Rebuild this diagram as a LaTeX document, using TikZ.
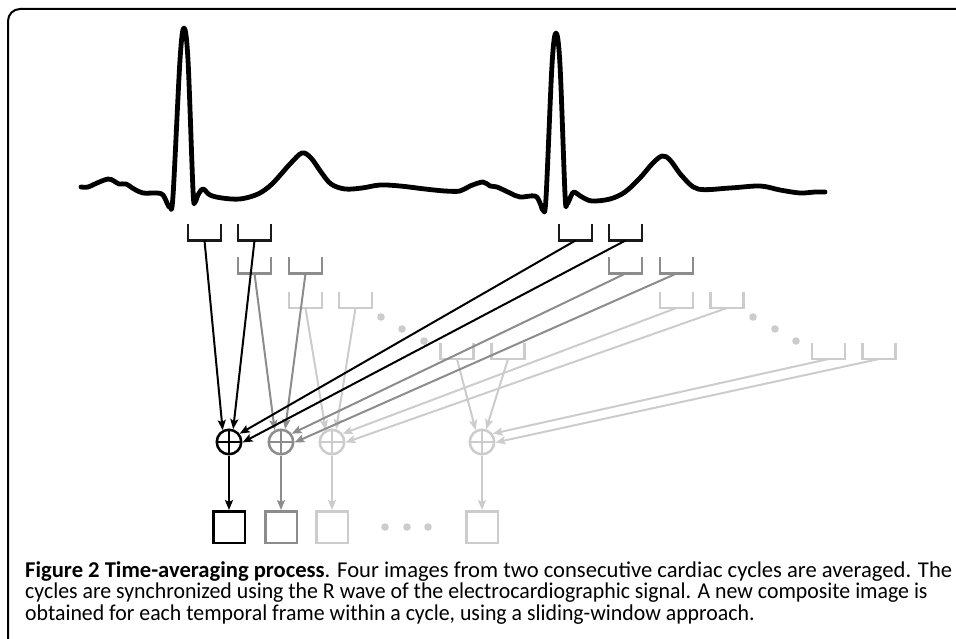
\documentclass[tikz,border=0pt]{standalone}
\usepackage{fontspec}
\newfontfamily\capfont{Carlito}
\usetikzlibrary{arrows.meta}
\definecolor{cK}{HTML}{1A1A1A}
\definecolor{cA}{HTML}{000000}
\definecolor{cG}{HTML}{8C8C8C}
\definecolor{cL}{HTML}{CCCCCC}
\tikzset{
  brk/.style={minimum width=33pt,minimum height=16pt,inner sep=0pt,outer sep=0pt,
    append after command={\pgfextra{\draw[line width=2.5pt,#1,line join=miter]
      (\tikzlastnode.north west) -- (\tikzlastnode.south west) -- (\tikzlastnode.south east) -- (\tikzlastnode.north east);}}},
  sumnode/.style={circle,draw=#1,line width=2.5pt,minimum size=24.5pt,inner sep=0pt,
    path picture={\draw[#1,line width=2pt] (path picture bounding box.north) -- (path picture bounding box.south)
      (path picture bounding box.west) -- (path picture bounding box.east);}},
  outbox/.style={rectangle,draw=#1,line width=2.5pt,minimum size=31.5pt,inner sep=0pt},
  arr/.style={draw=#1,line width=2pt,-{Stealth[length=10pt,width=8pt,inset=2pt]}},
  dotc/.style={fill=cL},
  ecg/.style={line width=4.8pt,line cap=round,line join=round},
  frame/.style={line width=2pt,rounded corners=12pt},
  captext/.style={anchor=base west,inner sep=0pt,font=\capfont\fontsize{22.6}{24}\selectfont},
}
\begin{document}
\begin{tikzpicture}[x=1pt,y=-1pt]
\useasboundingbox (0,0) rectangle (956,639);
% frame
\draw[frame] (8,645) -- (8,9) -- (962,9);
% ECG trace
\draw[ecg] plot[smooth,tension=0.55] coordinates {
(81,187) (88,187) (97,183) (108,179) (114,181) (119,184) (126,184) (134,189) (143,193) (157,193) (163,195)
(168,205) (170,207) (173,196) (180,60) (184,28) (188,60) (193,190) (195,202) (198,195) (203,189)
(210,195) (222,198) (240,199) (258,194) (272,184) (290,164) (302,153) (311,158) (321,172) (331,184)
(345,189) (362,188) (380,185) (400,186) (425,189) (445,191) (460,191) (470,186) (483,182) (490,186)
(497,187) (510,193) (520,197) (535,196) (540,203) (543,210) (546,198) (552,65) (556,33) (560,65)
(565,194) (567,204) (571,196) (574,192) (582,197) (592,201) (610,199) (625,192) (640,178) (652,164)
(662,156) (670,160) (682,176) (698,189) (730,188) (760,186) (780,190) (800,193) (815,192) (825,192)};
% row 1 brackets (black)
\node[brk=cK] (a1) at (204.5,232.5) {};
\node[brk=cK] (a2) at (254.5,232.5) {};
\node[brk=cK] (a3) at (575.5,232.5) {};
\node[brk=cK] (a4) at (625.5,232.5) {};
% row 2 brackets (gray)
\node[brk=cG] (b1) at (254.5,265.5) {};
\node[brk=cG] (b2) at (305.5,265.5) {};
\node[brk=cG] (b3) at (625.5,265.5) {};
\node[brk=cG] (b4) at (676.5,265.5) {};
% row 3 brackets (light)
\node[brk=cL] (d1) at (305.5,300) {};
\node[brk=cL] (d2) at (355.5,300) {};
\node[brk=cL] (d3) at (676.5,300) {};
\node[brk=cL] (d4) at (727,300) {};
% row 4 brackets (light)
\node[brk=cL] (e1) at (457,351) {};
\node[brk=cL] (e2) at (508,351) {};
\node[brk=cL] (e3) at (828.5,351) {};
\node[brk=cL] (e4) at (879,351) {};
% continuation dots
\foreach \p in {(381,317),(402,329),(424,341),(753,317),(775,329),(796,341),(385,527),(407,527),(428,527)}
  \fill[dotc] \p circle (3.8pt);
% summation nodes
\node[sumnode=cA] (s1) at (229,442) {};
\node[sumnode=cG] (s2) at (281,442) {};
\node[sumnode=cL] (s3) at (332,442) {};
\node[sumnode=cL] (s4) at (482,442) {};
% output images
\node[outbox=cA] (o1) at (229,527) {};
\node[outbox=cG] (o2) at (281,527) {};
\node[outbox=cL] (o3) at (332,527) {};
\node[outbox=cL] (o4) at (482,527) {};
% connectors (light first, dark on top)
\draw[arr=cL] (e1.south) -- (s4.118);
\draw[arr=cL] (e2.south) -- (s4.72);
\draw[arr=cL] (e3.south) -- (s4.38);
\draw[arr=cL] (e4.south) -- (s4.-2);
\draw[arr=cL] (d1.south) -- (s3.118);
\draw[arr=cL] (d2.south) -- (s3.72);
\draw[arr=cL] (d3.south) -- (s3.38);
\draw[arr=cL] (d4.south) -- (s3.-2);
\draw[arr=cG] (b1.south) -- (s2.118);
\draw[arr=cG] (b2.south) -- (s2.72);
\draw[arr=cG] (b3.south) -- (s2.38);
\draw[arr=cG] (b4.south) -- (s2.-2);
\draw[arr=cA] (a1.south) -- (s1.118);
\draw[arr=cA] (a2.south) -- (s1.72);
\draw[arr=cA] (a3.south) -- (s1.38);
\draw[arr=cA] (a4.south) -- (s1.-2);
\draw[arr=cL] (s4) -- (o4);
\draw[arr=cL] (s3) -- (o3);
\draw[arr=cG] (s2) -- (o2);
\draw[arr=cA] (s1) -- (o1);
% caption
\node[captext] (cap1) at (25,577) {\textbf{Figure 2 Time-averaging process}. Four images from two consecutive cardiac cycles are averaged. The};
\node[captext] (cap2) at (25,598.5) {\scalebox{0.965}[1]{cycles are synchronized using the R wave of the electrocardiographic signal. A new composite image is}};
\node[captext] (cap3) at (25,620) {\scalebox{0.965}[1]{obtained for each temporal frame within a cycle, using a sliding-window approach.}};
\end{tikzpicture}
\end{document}
